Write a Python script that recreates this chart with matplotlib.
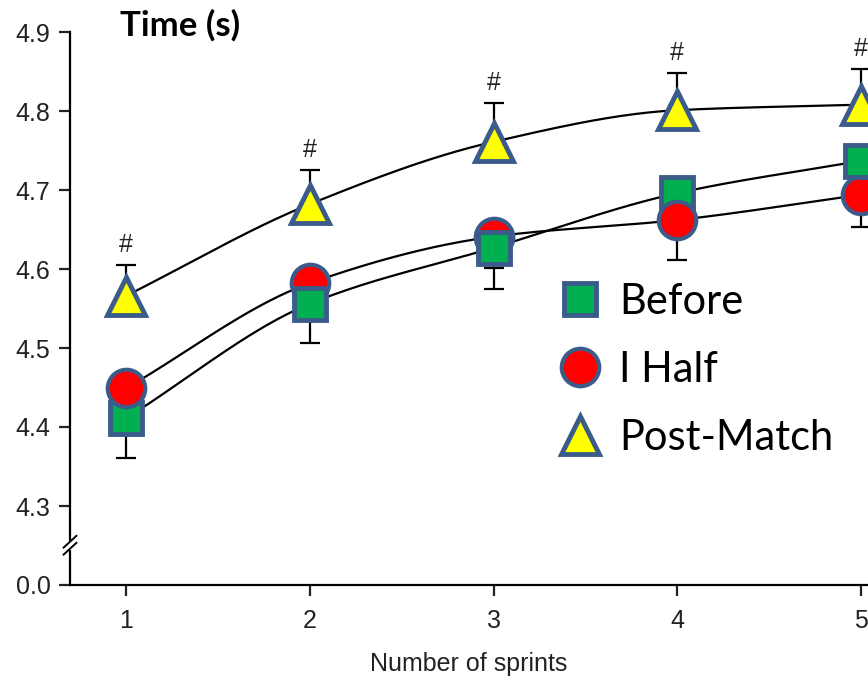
import numpy as np
import matplotlib.pyplot as plt
from matplotlib.lines import Line2D

sprints = [1, 2, 3, 4, 5]
before = [4.411, 4.556, 4.627, 4.696, 4.737]
before_err = [0.050, 0.050, 0.052, 0.040, 0.040]
half = [4.449, 4.582, 4.641, 4.662, 4.694]
half_err = [0.040, 0.040, 0.040, 0.051, 0.041]
post = [4.566, 4.682, 4.761, 4.801, 4.808]
post_err = [0.039, 0.043, 0.049, 0.047, 0.045]
ytick_vals = [4.2, 4.3, 4.4, 4.5, 4.6, 4.7, 4.8, 4.9]
ytick_labels = ["0.0", "4.3", "4.4", "4.5", "4.6", "4.7", "4.8", "4.9"]

edge = "#3B5C8A"
tick_font = "Liberation Sans"
text_font = "Lato"


def smooth_line(x, y, n=40):
    # monotone cubic (Fritsch-Carlson) curve through the points, for drawing only
    x = np.asarray(x, float)
    y = np.asarray(y, float)
    h = np.diff(x)
    d = np.diff(y) / h
    m = np.zeros_like(y)
    m[0], m[-1] = d[0], d[-1]
    for i in range(1, len(y) - 1):
        if d[i - 1] * d[i] > 0:
            w1 = 2 * h[i] + h[i - 1]
            w2 = h[i] + 2 * h[i - 1]
            m[i] = (w1 + w2) / (w1 / d[i - 1] + w2 / d[i])
    xs, ys = [], []
    for i in range(len(h)):
        t = np.linspace(0, 1, n)
        h00 = 2 * t**3 - 3 * t**2 + 1
        h10 = t**3 - 2 * t**2 + t
        h01 = -2 * t**3 + 3 * t**2
        h11 = t**3 - t**2
        xs.append(x[i] + t * h[i])
        ys.append(h00 * y[i] + h10 * h[i] * m[i] + h01 * y[i + 1] + h11 * h[i] * m[i + 1])
    return np.concatenate(xs), np.concatenate(ys)


fig = plt.figure(figsize=(8.68, 6.82), dpi=100)
ax = fig.add_axes([70 / 868, 97 / 682, 1 - 70 / 868, 585 / 682])
ax.set_xlim(0.6952, 5.038)
ax.set_ylim(4.2, 4.2 + 585 / 790)

for vals in (before, half, post):
    lx, ly = smooth_line(sprints, vals)
    ax.plot(lx, ly, color="black", lw=1.6, zorder=1)

# error bars (one-sided)
z0 = np.zeros(5)
eb = dict(fmt="none", ecolor="black", elinewidth=1.6, capsize=7, capthick=1.6, zorder=2)
ax.errorbar(sprints, before, yerr=[before_err, z0], **eb)
ax.errorbar(sprints, half, yerr=[half_err, z0], **eb)
ax.errorbar(sprints, post, yerr=[z0, post_err], **eb)

# markers, stacking order as in the original
sq_z = [3, 5, 5, 3, 5]
for x, y, z in zip(sprints, before, sq_z):
    ax.plot(x, y, marker="s", ms=23, mfc="#00B050", mec=edge, mew=3.5, zorder=z)
for x, y in zip(sprints, half):
    ax.plot(x, y, marker="o", ms=27, mfc="#FF0000", mec=edge, mew=3, zorder=4)
ax.plot(sprints, post, ls="none", marker="^", ms=27, mfc="#FFFF00", mec=edge,
        mew=3.5, zorder=6)

for x, y, e in zip(sprints, post, post_err):
    ax.text(x, y + e + 0.01, "#", ha="center", va="bottom", fontsize=18,
            family=tick_font, color="#222222")

# axes styling
for s in ("top", "right"):
    ax.spines[s].set_visible(False)
ax.spines["left"].set_bounds(4.2, 4.9)
ax.spines["left"].set_linewidth(1.6)
ax.spines["bottom"].set_linewidth(1.6)
ax.set_yticks(ytick_vals)
ax.set_yticklabels(ytick_labels)
ax.set_xticks(sprints)
ax.tick_params(axis="both", direction="out", length=8, width=1.6,
               labelsize=18, colors="#222222")
ax.tick_params(axis="y", pad=6)
ax.tick_params(axis="x", pad=9)
for lab in ax.get_xticklabels() + ax.get_yticklabels():
    lab.set_family(tick_font)
ax.set_xlabel("Number of sprints", fontsize=18, family=tick_font,
              color="#222222", labelpad=14)

# axis break marks
for dy in (-0.006, 0.006):
    ax.plot([-0.008, 0.008], np.array([0.058, 0.078]) + dy,
            transform=ax.transAxes, color="black", lw=1.4, clip_on=False, zorder=10)
ax.plot([0, 0], [0.064, 0.072], transform=ax.transAxes, color="white", lw=3,
        clip_on=False, zorder=9)

fig.text(120 / 868, 1 - 25 / 682, "Time (s)", fontsize=25, fontweight="bold",
         family=text_font, va="center", ha="left")

handles = [
    Line2D([], [], ls="none", marker="s", ms=23, mfc="#00B050", mec=edge, mew=3.5),
    Line2D([], [], ls="none", marker="o", ms=27, mfc="#FF0000", mec=edge, mew=3),
    Line2D([], [], ls="none", marker="^", ms=27, mfc="#FFFF00", mec=edge, mew=3.5),
]
leg = ax.legend(handles, ["Before", "I Half", "Post-Match"], loc="upper left",
                bbox_to_anchor=(538 / 868, 1 - 262 / 682),
                bbox_transform=fig.transFigure, frameon=False,
                prop={"family": text_font, "size": 30}, handlelength=1.0,
                handletextpad=0.45, labelspacing=0.72, borderpad=0)
leg.set_zorder(20)

fig.savefig("out.png", dpi=100)
